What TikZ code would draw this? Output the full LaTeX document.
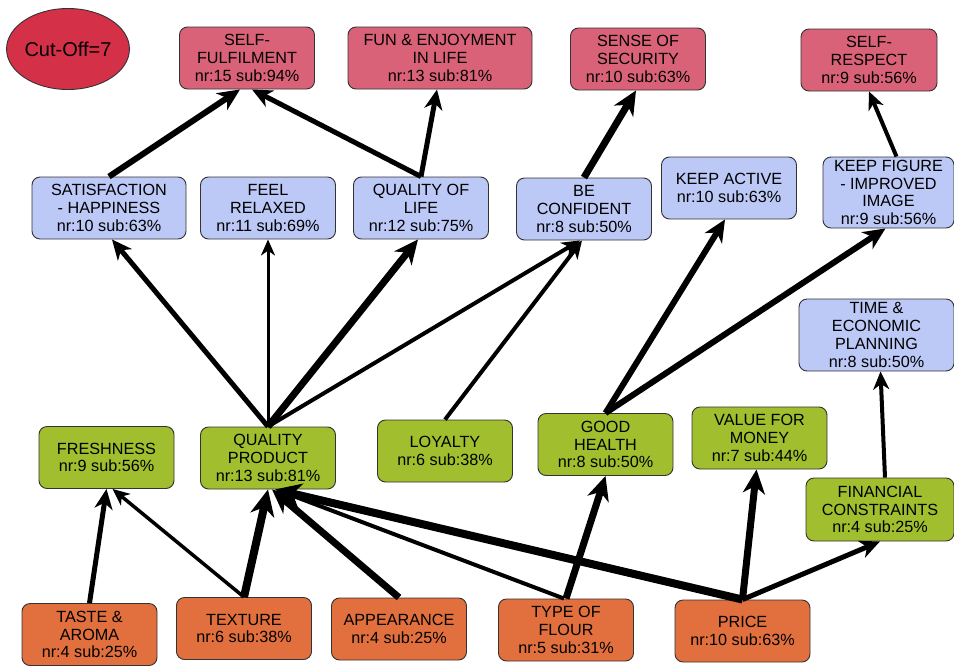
\documentclass[tikz,border=0pt]{standalone}
\usepackage{fontspec}
\setmainfont{Liberation Sans}
\usetikzlibrary{arrows.meta,shapes.geometric}
\definecolor{cred}{RGB}{218,98,120}
\definecolor{cblue}{RGB}{188,200,246}
\definecolor{cgreen}{RGB}{160,190,45}
\definecolor{corange}{RGB}{226,112,62}
\definecolor{cell}{RGB}{212,48,72}
\begin{document}
\begin{tikzpicture}[x=1pt,y=-1pt,
  box/.style={draw=black!80, line width=0.9pt, rounded corners=8pt, align=center,
    minimum width=135pt, minimum height=62pt, inner sep=1pt,
    font=\fontsize{16.2}{17.8}\selectfont, text=black},
  redbox/.style={box, fill=cred},
  bluebox/.style={box, fill=cblue},
  greenbox/.style={box, fill=cgreen},
  orangebox/.style={box, fill=corange},
  ar/.style={line width=#1, -{Stealth[length=10pt 2, width=8pt 2, inset=3pt 0.6]}}
]
\useasboundingbox (0,0) rectangle (954,665);
\fill[white] (0,0) rectangle (954,665);

\node[ellipse, draw=black!80, line width=0.9pt, fill=cell, minimum width=121pt, minimum height=81pt,
  inner sep=0pt, font=\fontsize{20}{24}\selectfont, text=black] (cut) at (68,49) {Cut-Off=7};

% top row (red)
\node[redbox] (sf) at (247,58) {SELF-\\FULFILMENT\\nr:15 sub:94\%};
\node[redbox, minimum width=184pt] (fun) at (440,58) {FUN \& ENJOYMENT\\IN LIFE\\nr:13 sub:81\%};
\node[redbox] (ss) at (638,59) {SENSE OF\\SECURITY\\nr:10 sub:63\%};
\node[redbox, minimum width=136pt] (sr) at (869,60) {SELF-\\RESPECT\\nr:9 sub:56\%};

% second row (blue)
\node[bluebox, minimum width=154pt] (sat) at (109,208) {SATISFACTION\\- HAPPINESS\\nr:10 sub:63\%};
\node[bluebox] (fr) at (268,208) {FEEL\\RELAXED\\nr:11 sub:69\%};
\node[bluebox] (qol) at (421,208) {QUALITY OF\\LIFE\\nr:12 sub:75\%};
\node[bluebox] (bc) at (584,209) {BE\\CONFIDENT\\nr:8 sub:50\%};
\node[bluebox] (ka) at (729,188) {KEEP ACTIVE\\nr:10 sub:63\%};
\node[bluebox, minimum width=131pt, minimum height=71pt, inner sep=0pt] (kf) at (888.5,192.5) {KEEP FIGURE\\- IMPROVED\\IMAGE\\nr:9 sub:56\%};
\node[bluebox, minimum width=155pt, minimum height=72pt, inner sep=0pt] (te) at (876.5,335) {TIME \&\\ECONOMIC\\PLANNING\\nr:8 sub:50\%};

% third row (green)
\node[greenbox] (fresh) at (106.5,457.5) {FRESHNESS\\nr:9 sub:56\%};
\node[greenbox] (qp) at (268,458) {QUALITY\\PRODUCT\\nr:13 sub:81\%};
\node[greenbox] (loy) at (445,451) {LOYALTY\\nr:6 sub:38\%};
\node[greenbox] (gh) at (605.5,444.5) {GOOD\\HEALTH\\nr:8 sub:50\%};
\node[greenbox] (vfm) at (759.5,438) {VALUE FOR\\MONEY\\nr:7 sub:44\%};
\node[greenbox, minimum width=148pt, minimum height=63pt] (fc) at (880,509.5) {FINANCIAL\\CONSTRAINTS\\nr:4 sub:25\%};

% bottom row (orange)
\node[orangebox] (ta) at (89.5,634.5) {TASTE \&\\AROMA\\nr:4 sub:25\%};
\node[orangebox] (tex) at (244,628.5) {TEXTURE\\nr:6 sub:38\%};
\node[orangebox] (app) at (399,629) {APPEARANCE\\nr:4 sub:25\%};
\node[orangebox] (tof) at (566,630) {TYPE OF\\FLOUR\\nr:5 sub:31\%};
\node[orangebox] (pr) at (742.5,631) {PRICE\\nr:10 sub:63\%};

% connectors
\draw[ar=6pt] (sat.north) -- ([xshift=-7pt]sf.south);
\draw[ar=5pt] (qol.north) -- ([xshift=5pt]sf.south);
\draw[ar=5pt] (qol.north) -- ([xshift=-3pt]fun.south);
\draw[ar=7pt] (bc.north) -- ([xshift=-2pt]ss.south);
\draw[ar=4pt] ([xshift=8pt]kf.north) -- (sr.south);

\draw[ar=5pt] (qp.north) -- ([xshift=3pt]sat.south);
\draw[ar=3pt] (qp.north) -- (fr.south);
\draw[ar=7pt] (qp.north) -- ([xshift=-3pt]qol.south);
\draw[ar=4pt] (qp.north) -- ([xshift=-4pt]bc.south);
\draw[ar=4pt] (loy.north) -- ([xshift=-2pt]bc.south);
\draw[ar=6pt] (gh.north) -- ([xshift=-4pt]ka.south);
\draw[ar=6pt] (gh.north) -- ([xshift=-3pt]kf.south);
\draw[ar=4pt] ([xshift=5pt]fc.north) -- ([xshift=4pt]te.south);

\draw[ar=5pt] (ta.north) -- (fresh.south);
\draw[ar=3.5pt] (tex.north) -- ([xshift=6pt]fresh.south);
\draw[ar=8pt] (tex.north) -- (qp.south);
\draw[ar=7pt] (app.north) -- ([xshift=4pt]qp.south);
\draw[ar=4pt] ([xshift=-2pt]tof.north) -- ([xshift=8pt]qp.south);
\draw[ar=8pt] (pr.north) -- ([xshift=7pt]qp.south);
\draw[ar=7pt] (tof.north) -- (gh.south);
\draw[ar=7pt] (pr.north) -- ([xshift=-3pt]vfm.south);
\draw[ar=5pt] (pr.north) -- (fc.south);
\end{tikzpicture}
\end{document}
